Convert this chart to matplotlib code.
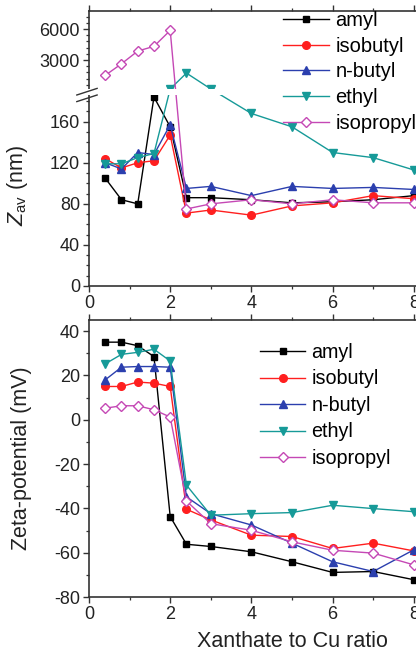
import numpy as np
import matplotlib
matplotlib.use("Agg")
import matplotlib.pyplot as plt
from matplotlib.ticker import FixedLocator, MultipleLocator
from matplotlib.patches import Rectangle

plt.rcParams['font.family'] = ['Liberation Sans', 'DejaVu Sans']
plt.rcParams['mathtext.fontset'] = 'custom'
plt.rcParams['mathtext.rm'] = 'Liberation Sans'
plt.rcParams['mathtext.it'] = 'Liberation Sans:italic'
plt.rcParams['axes.unicode_minus'] = False

# data
ratio = [0.4, 0.8, 1.2, 1.6, 2.0, 2.4, 3, 4, 5, 6, 7, 8]
names = ['amyl', 'isobutyl', 'n-butyl', 'ethyl', 'isopropyl']

zav_amyl = [105, 84, 80, 184, 155, 86, 86, 84, 81, 82, 84, 88]
zav_isobutyl = [124, 115, 120, 122, 147, 71, 74, 69, 78, 81, 88, 85]
zav_nbutyl = [120, 114, 130, 128, 157, 95, 97, 88, 97, 95, 96, 94]
zav_ethyl = [119, 119, 125, 129, 205, 1740, 205, 168, 155, 130, 125, 113]
zav_isopropyl = [1520, 2640, 3870, 4330, 5870, 75, 80, 84, 80, 84, 81, 81]

zeta_amyl = [35, 35, 33.4, 28.5, -43.7, -56.2, -57.2, -59.6, -64.1, -68.9, -68.5, -72.2]
zeta_isobutyl = [15, 15, 17, 16.5, 15, -40.4, -45.2, -52.1, -52.7, -58.1, -55.7, -59.2]
zeta_nbutyl = [18, 23.7, 24, 24, 23.7, -34.8, -42.4, -47.5, -55.7, -64.1, -68.5, -58.7]
zeta_ethyl = [25.2, 29.5, 30.4, 31.8, 26.5, -29.5, -43.1, -42.4, -41.9, -38.6, -40.1, -41.5]
zeta_isopropyl = [5.2, 6.3, 6.3, 4.5, 1.2, -36.7, -46.9, -49.9, -55.1, -58.9, -60.2, -65.5]

colors = ['black', '#ff1f1f', '#2b3fae', '#169a98', '#c548b5']
markers = ['s', 'o', '^', 'v', 'D']
faces = ['black', '#ff1f1f', '#2b3fae', '#169a98', 'white']

# broken y axis for Z_av: 0-186 below, gap, 200-7750 above
LOW, HIGH, PX_LOW, GAP, PER_PX = 186.0, 200.0, 191.0, 6.0, 96.8


def fwd(v):
    v = np.asarray(v, dtype=float)
    return np.where(v <= LOW, v * PX_LOW / LOW,
                    np.where(v <= HIGH, PX_LOW + (v - LOW) * GAP / (HIGH - LOW),
                             PX_LOW + GAP + (v - HIGH) / PER_PX))


def inv(d):
    d = np.asarray(d, dtype=float)
    return np.where(d <= PX_LOW, d * LOW / PX_LOW,
                    np.where(d <= PX_LOW + GAP, LOW + (d - PX_LOW) * (HIGH - LOW) / GAP,
                             HIGH + (d - PX_LOW - GAP) * PER_PX))


W, H = 416, 657
fig = plt.figure(figsize=(W / 100, H / 100), dpi=100)

ax1 = fig.add_axes([89 / W, 1 - 286 / H, 406 / W, 275 / H])
ax2 = fig.add_axes([89 / W, 1 - 597 / H, 406 / W, 277 / H])

zav = [zav_amyl, zav_isobutyl, zav_nbutyl, zav_ethyl, zav_isopropyl]
zeta = [zeta_amyl, zeta_isobutyl, zeta_nbutyl, zeta_ethyl, zeta_isopropyl]

ms = [5, 5.5, 6, 6, 5]
handles = []
for i in range(5):
    h, = ax1.plot(ratio, zav[i], color=colors[i], marker=markers[i], ms=ms[i],
                  mfc=faces[i], mec=colors[i], mew=1.0, lw=1.0, label=names[i])
    ax2.plot(ratio, zeta[i], color=colors[i], marker=markers[i], ms=ms[i],
             mfc=faces[i], mec=colors[i], mew=1.0, lw=1.0, label=names[i])
    handles.append(h)

ax1.set_yscale('function', functions=(fwd, inv))
ax1.set_ylim(0, HIGH + 78 * PER_PX)
ax1.yaxis.set_major_locator(FixedLocator([0, 40, 80, 120, 160, 3000, 6000]))
ax1.yaxis.set_minor_locator(FixedLocator(
    [v for v in range(10, 186, 10) if v % 40] + [v for v in range(600, 7700, 600) if v % 3000]))

# white band hides everything inside the break
ax1.add_patch(Rectangle((-0.02, PX_LOW / 275), 1.1, GAP / 275, transform=ax1.transAxes,
                        facecolor='white', edgecolor='none', zorder=3, clip_on=False))
for dy in (PX_LOW / 275 - 0.012, PX_LOW / 275 + 0.012):
    ax1.plot([-0.03, 0.02], [dy - 0.012, dy + 0.012], transform=ax1.transAxes,
             color='#333333', lw=1.0, clip_on=False, zorder=4)

for ax in (ax1, ax2):
    ax.set_xlim(0, 10)
    ax.xaxis.set_major_locator(MultipleLocator(2))
    ax.xaxis.set_minor_locator(MultipleLocator(1))
    ax.tick_params(axis='both', which='major', labelsize=13, length=4.5, width=1.0,
                   colors='#333333', labelcolor='#222222', pad=2)
    ax.tick_params(axis='both', which='minor', length=2.5, width=0.9, colors='#333333')
    ax.tick_params(axis='x', which='both', top=True)
    for s in ax.spines.values():
        s.set_linewidth(1.2)
        s.set_color('#333333')
    ax.spines['right'].set_visible(False)

ax2.set_ylim(-80, 45)
ax2.yaxis.set_major_locator(MultipleLocator(20))
ax2.yaxis.set_minor_locator(MultipleLocator(10))

ax1.set_ylabel(r'$Z_{\mathrm{av}}$ (nm)', fontsize=15.5, color='#222222')
ax1.yaxis.set_label_coords(-0.145, 0.365)
ax2.set_ylabel('Zeta-potential (mV)', fontsize=15.5, color='#222222')
ax2.yaxis.set_label_coords(-0.14, 0.5)
ax2.set_xlabel('Xanthate to Cu ratio', fontsize=15.5, color='#222222', labelpad=6)

fig.legend(handles=handles, loc='upper left', bbox_to_anchor=(283 / W, 1 - 11 / H),
           frameon=False, fontsize=14.5, borderpad=0, borderaxespad=0,
           handlelength=2.3, handletextpad=0.3, labelspacing=0.33)
fig.legend(handles=handles, loc='upper left', bbox_to_anchor=(260 / W, 1 - 343 / H),
           frameon=False, fontsize=14.2, borderpad=0, borderaxespad=0,
           handlelength=2.3, handletextpad=0.3, labelspacing=0.38)

fig.savefig('out.png', dpi=100)
